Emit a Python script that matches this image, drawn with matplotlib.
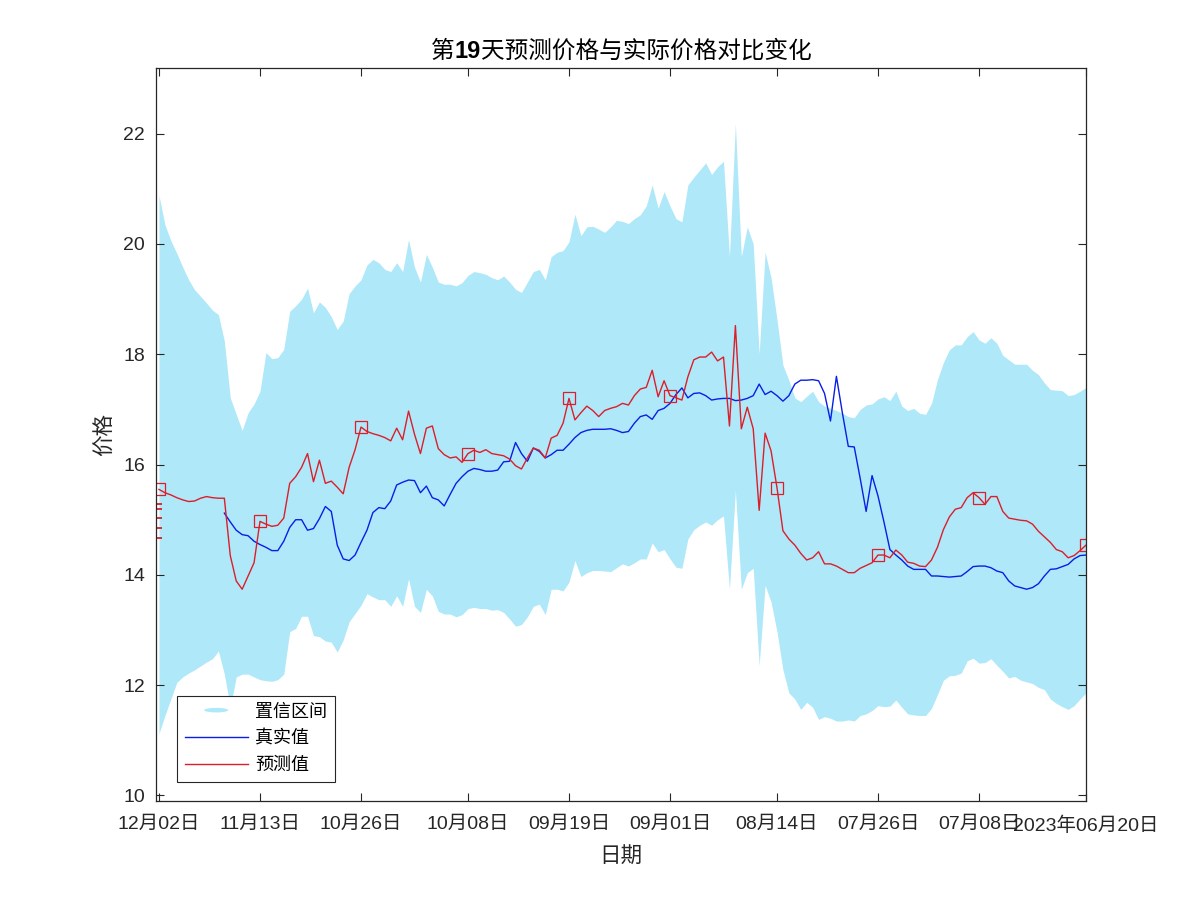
import numpy as np
import matplotlib
matplotlib.use('Agg')
import matplotlib.pyplot as plt
from matplotlib.patches import Ellipse, Patch
from matplotlib.lines import Line2D
from matplotlib.legend_handler import HandlerPatch
from matplotlib.offsetbox import TextArea, HPacker, AnchoredOffsetbox

plt.rcParams['font.family'] = ['Liberation Sans', 'Noto Sans CJK SC', 'DejaVu Sans']

# 预测值 (index 1 = 12月02日 ... index 157 = 2023年06月20日)
pred = [15.55, 15.49, 15.45, 15.40, 15.36, 15.33, 15.34, 15.39, 15.42, 15.40,
        15.39, 15.39, 14.35, 13.89, 13.74, 13.98, 14.22, 14.97, 14.92, 14.88,
        14.90, 15.03, 15.66, 15.78, 15.95, 16.20, 15.69, 16.08, 15.66, 15.70,
        15.59, 15.47, 15.95, 16.27, 16.68, 16.60, 16.56, 16.53, 16.49, 16.43,
        16.66, 16.45, 16.97, 16.55, 16.20, 16.66, 16.70, 16.29, 16.18, 16.12,
        16.14, 16.04, 16.20, 16.26, 16.22, 16.27, 16.20, 16.18, 16.16, 16.10,
        15.98, 15.92, 16.12, 16.30, 16.26, 16.12, 16.48, 16.53, 16.75, 17.20,
        16.81, 16.94, 17.06, 16.98, 16.87, 16.98, 17.02, 17.05, 17.11, 17.08,
        17.25, 17.37, 17.40, 17.71, 17.23, 17.52, 17.25, 17.21, 17.17, 17.59,
        17.90, 17.95, 17.95, 18.04, 17.88, 17.95, 16.70, 18.52, 16.65, 17.04,
        16.65, 15.17, 16.57, 16.25, 15.58, 14.80, 14.65, 14.54, 14.39, 14.27,
        14.31, 14.42, 14.20, 14.20, 14.16, 14.10, 14.04, 14.04, 14.12, 14.17,
        14.22, 14.36, 14.36, 14.31, 14.45, 14.36, 14.23, 14.21, 14.16, 14.15,
        14.27, 14.50, 14.82, 15.05, 15.19, 15.22, 15.40, 15.49, 15.40, 15.28,
        15.42, 15.42, 15.15, 15.03, 15.01, 14.99, 14.98, 14.92, 14.79, 14.69,
        14.59, 14.46, 14.42, 14.31, 14.35, 14.44, 14.54]

# 真实值
nan = np.nan
true_vals = [nan, nan, nan, nan, nan, nan, nan, nan, nan, nan,
             nan, 15.12, 14.96, 14.81, 14.73, 14.71, 14.61, 14.55, 14.50, 14.44,
             14.44, 14.61, 14.86, 15.00, 15.00, 14.81, 14.84, 15.02, 15.24, 15.15,
             14.54, 14.29, 14.26, 14.36, 14.59, 14.81, 15.13, 15.22, 15.20, 15.34,
             15.63, 15.68, 15.72, 15.71, 15.49, 15.61, 15.40, 15.36, 15.25, 15.46,
             15.66, 15.78, 15.88, 15.93, 15.91, 15.88, 15.88, 15.90, 16.05, 16.06,
             16.40, 16.20, 16.06, 16.30, 16.24, 16.12, 16.18, 16.26, 16.26, 16.37,
             16.49, 16.58, 16.62, 16.64, 16.64, 16.64, 16.65, 16.62, 16.58, 16.60,
             16.75, 16.87, 16.90, 16.82, 16.98, 17.02, 17.11, 17.27, 17.39, 17.21,
             17.29, 17.30, 17.25, 17.17, 17.19, 17.20, 17.20, 17.16, 17.17, 17.20,
             17.25, 17.46, 17.27, 17.33, 17.25, 17.15, 17.25, 17.46, 17.53, 17.53,
             17.54, 17.52, 17.29, 16.79, 17.60, 16.94, 16.33, 16.32, 15.75, 15.15,
             15.80, 15.43, 14.96, 14.46, 14.36, 14.27, 14.16, 14.10, 14.10, 14.10,
             13.98, 13.98, 13.97, 13.96, 13.97, 13.98, 14.06, 14.15, 14.16, 14.16,
             14.13, 14.07, 14.04, 13.89, 13.80, 13.77, 13.74, 13.77, 13.84, 13.98,
             14.10, 14.11, 14.15, 14.19, 14.29, 14.35, 14.36]

# 置信区间 上限 / 下限
upper = [20.88, 20.35, 20.06, 19.83, 19.58, 19.35, 19.17, 19.05, 18.93, 18.80,
         18.72, 18.24, 17.21, 16.91, 16.62, 16.94, 17.10, 17.33, 18.03, 17.92,
         17.94, 18.09, 18.78, 18.88, 19.00, 19.20, 18.75, 18.95, 18.85, 18.68,
         18.45, 18.60, 19.10, 19.24, 19.35, 19.62, 19.72, 19.66, 19.54, 19.50,
         19.66, 19.50, 20.08, 19.58, 19.31, 19.81, 19.58, 19.31, 19.27, 19.27,
         19.24, 19.30, 19.43, 19.50, 19.48, 19.45, 19.39, 19.35, 19.42, 19.31,
         19.18, 19.12, 19.31, 19.50, 19.54, 19.35, 19.77, 19.85, 19.88, 20.04,
         20.54, 20.15, 20.31, 20.32, 20.27, 20.21, 20.31, 20.43, 20.41, 20.37,
         20.46, 20.53, 20.69, 21.07, 20.65, 20.95, 20.69, 20.46, 20.40, 21.07,
         21.21, 21.34, 21.47, 21.26, 21.40, 21.50, 19.77, 22.18, 19.77, 20.31,
         20.00, 18.01, 19.85, 19.39, 18.63, 17.80, 17.53, 17.21, 17.14, 17.24,
         17.33, 17.14, 17.06, 17.02, 16.98, 16.93, 16.87, 16.85, 17.00, 17.08,
         17.10, 17.19, 17.23, 17.16, 17.33, 17.06, 16.98, 17.02, 16.93, 16.91,
         17.11, 17.54, 17.85, 18.08, 18.17, 18.17, 18.32, 18.41, 18.26, 18.20,
         18.30, 18.20, 17.98, 17.90, 17.82, 17.82, 17.82, 17.71, 17.63, 17.48,
         17.36, 17.35, 17.34, 17.25, 17.27, 17.33, 17.40]

lower = [11.12, 11.45, 11.75, 12.05, 12.15, 12.22, 12.28, 12.35, 12.42, 12.48,
         12.62, 12.20, 11.60, 12.15, 12.20, 12.20, 12.15, 12.10, 12.08, 12.07,
         12.10, 12.20, 12.97, 13.03, 13.25, 13.25, 12.90, 12.88, 12.80, 12.78,
         12.60, 12.82, 13.15, 13.30, 13.45, 13.66, 13.60, 13.55, 13.55, 13.43,
         13.62, 13.43, 13.93, 13.43, 13.32, 13.74, 13.62, 13.34, 13.29, 13.29,
         13.24, 13.28, 13.39, 13.41, 13.39, 13.39, 13.36, 13.37, 13.32, 13.20,
         13.07, 13.10, 13.24, 13.43, 13.47, 13.28, 13.74, 13.74, 13.71, 13.87,
         14.26, 13.97, 14.04, 14.08, 14.08, 14.07, 14.06, 14.13, 14.20, 14.16,
         14.22, 14.29, 14.29, 14.58, 14.42, 14.46, 14.29, 14.14, 14.12, 14.65,
         14.82, 14.90, 14.96, 14.90, 15.00, 15.07, 13.74, 15.53, 13.74, 14.04,
         14.12, 12.36, 13.81, 13.51, 12.97, 12.28, 11.86, 11.75, 11.56, 11.69,
         11.60, 11.38, 11.43, 11.40, 11.35, 11.35, 11.37, 11.35, 11.45, 11.48,
         11.54, 11.63, 11.61, 11.62, 11.73, 11.60, 11.48, 11.46, 11.45, 11.45,
         11.58, 11.83, 12.09, 12.17, 12.18, 12.22, 12.44, 12.49, 12.40, 12.41,
         12.48, 12.36, 12.25, 12.13, 12.16, 12.09, 12.06, 12.03, 11.96, 11.92,
         11.75, 11.67, 11.61, 11.56, 11.63, 11.75, 11.86]

# 左边缘的红色短线
edge_stubs = [15.29, 15.20, 15.03, 14.85, 14.66]

tick_idx = [1, 18, 35, 53, 70, 87, 105, 122, 139, 157]
tick_labels = ['12月02日', '11月13日', '10月26日', '10月08日', '09月19日',
               '09月01日', '08月14日', '07月26日', '07月08日', '2023年06月20日']

band_color = '#AFE8F9'
blue = '#0A1EE6'
red = '#DC1E2A'
dark = '#262626'

x = np.arange(1, len(pred) + 1)
pred_a = np.array(pred)

fig = plt.figure(figsize=(12, 9), dpi=100)
ax = fig.add_axes([0.13, 0.11, 0.775, 0.815])

ax.fill_between(x, lower, upper, color=band_color, linewidth=0)
ax.plot(x, true_vals, color=blue, lw=1.0)
ax.plot(x, pred, color=red, lw=1.0)
mk = np.array(tick_idx) - 1
ax.plot(x[mk], pred_a[mk], 's', mfc='none', mec=red, ms=8, mew=0.9)
ax.plot(np.ones(len(edge_stubs)), edge_stubs, '_', color=red, ms=5, mew=1.3, clip_on=False)

ax.set_xlim(0.5, 157)
ax.set_ylim(9.9, 23.2)
ax.set_xticks(tick_idx)
ax.set_xticklabels(tick_labels)
ax.set_yticks(np.arange(10, 23, 2))

ax.tick_params(direction='in', length=6, width=0.8, top=True, right=True,
               labelsize=14, colors=dark)
ax.tick_params(axis='x', pad=11)
ax.tick_params(axis='y', pad=8)
for s in ax.spines.values():
    s.set_color(dark)
    s.set_linewidth(0.9)

# 标题: "19" 加粗
title_parts = [TextArea('第', textprops=dict(fontsize=17, color='black')),
               TextArea('19', textprops=dict(fontsize=17, color='black', fontweight='bold')),
               TextArea('天预测价格与实际价格对比变化', textprops=dict(fontsize=17, color='black'))]
title_box = HPacker(children=title_parts, align='baseline', pad=0, sep=0)
ax.add_artist(AnchoredOffsetbox(loc='lower center', child=title_box, pad=0, frameon=False,
                                bbox_to_anchor=(0.5, 1.0), bbox_transform=ax.transAxes,
                                borderpad=0.35))

ax.set_xlabel('日期', fontsize=15.5, color=dark, labelpad=9)
ax.set_ylabel('价格', fontsize=15.5, color=dark, labelpad=5)


def make_ellipse(legend, orig_handle, xdescent, ydescent, width, height, fontsize):
    return Ellipse(xy=(0.5 * width - xdescent, 0.5 * height - ydescent),
                   width=0.38 * width, height=0.36 * height)


band_handle = Patch(facecolor=band_color, edgecolor='none')
true_handle = Line2D([], [], color=blue, lw=1.0)
pred_handle = Line2D([], [], color=red, lw=1.0)
leg = ax.legend([band_handle, true_handle, pred_handle], ['置信区间', '真实值', '预测值'],
                loc='lower left', bbox_to_anchor=(0.0226, 0.026),
                borderaxespad=0, fontsize=13, fancybox=False, framealpha=1,
                edgecolor=dark, handlelength=3.5, handletextpad=0.4,
                labelspacing=0.55, borderpad=0.42,
                handler_map={Patch: HandlerPatch(patch_func=make_ellipse)})
leg.get_frame().set_linewidth(0.8)

fig.savefig('out.png', dpi=100)
